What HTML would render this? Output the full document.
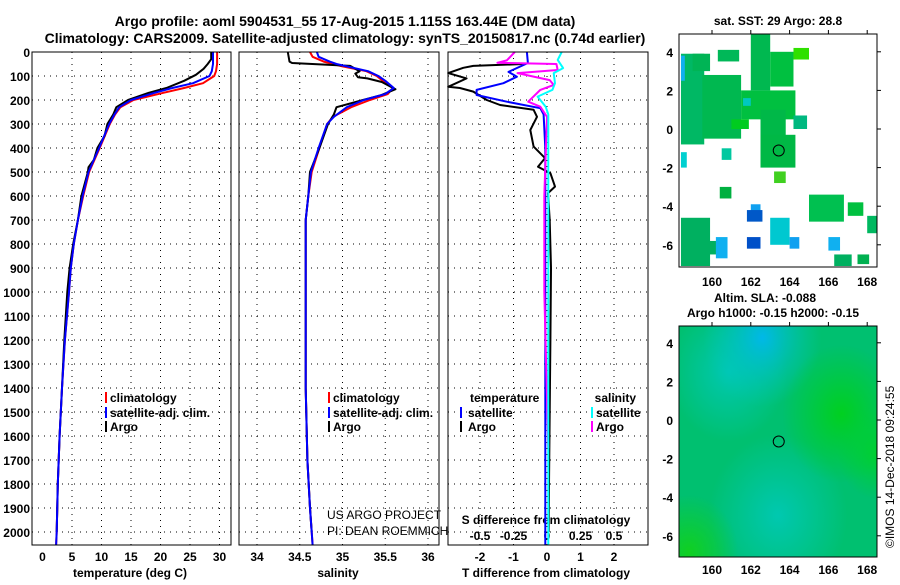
<!DOCTYPE html>
<html><head><meta charset="utf-8"><style>
body{margin:0;background:#fff;}
svg text{font-family:"Liberation Sans",sans-serif;font-weight:bold;font-size:12px;fill:#000;}
</style></head><body>
<svg id="chart" width="900" height="580" viewBox="0 0 900 580" xmlns="http://www.w3.org/2000/svg">
<rect width="900" height="580" fill="#fff"/>
<text x="345" y="26" text-anchor="middle" style="font-size:14px">Argo profile: aoml 5904531_55 17-Aug-2015 1.115S 163.44E (DM data)</text>
<text x="345" y="43" text-anchor="middle" style="font-size:14px">Climatology: CARS2009. Satellite-adjusted climatology: synTS_20150817.nc (0.74d earlier)</text>
<g id="plots"></g>
<text x="327" y="519" style="font-weight:normal">US ARGO PROJECT</text>
<text x="327" y="535" style="font-weight:normal">PI: DEAN ROEMMICH</text>
<text x="778" y="25" text-anchor="middle">sat. SST: 29 Argo: 28.8</text>
<text x="765" y="302" text-anchor="middle">Altim. SLA: -0.088</text>
<text x="773" y="317" text-anchor="middle">Argo h1000: -0.15 h2000: -0.15</text>
<text transform="translate(894,548) rotate(-90)" style="font-weight:normal">©IMOS 14-Dec-2018 09:24:55</text>
</svg>
<script>
// ---------- data ----------
const depthTicks = [0,100,200,300,400,500,600,700,800,900,1000,1100,1200,1300,1400,1500,1600,1700,1800,1900,2000];
const tTicks = [0,5,10,15,20,25,30];
const sTicks = [34,34.5,35,35.5,36];
const sTickLabels = ["34","34.5","35","35.5","36"];
const dTicks = [-2,-1,0,1,2];
const dsTickLabels = ["-0.5","-0.25","0","0.25","0.5"];
const dsTicks = [-0.5,-0.25,0,0.25,0.5];

const depthClim = [0,50,80,100,130,150,170,200,230,260,300,400,500,600,700,800,900,1000,1200,1400,1600,1800,2000,2054];
const tClim = [29.6,29.6,29.4,29.1,27.2,24,20.5,15.4,13.2,12.3,11.4,9.7,7.9,6.9,6.0,5.3,4.8,4.5,3.8,3.3,2.9,2.6,2.4,2.3];
const tSat  = [28.9,28.9,28.7,28.3,25.5,22,19,15,13,12.2,11.3,9.6,7.8,6.8,6.0,5.3,4.8,4.5,3.8,3.3,2.9,2.6,2.4,2.3];
const depthTArgo = [0,30,50,70,95,120,150,170,200,230,260,300,350,400,450,480,500,600,700,800,900,1000,1200,1400,1600,1800,2000];
const tArgo = [28.6,28.6,28.0,27.3,26,24,21,18,14.5,12.5,12,11,10.5,9.3,8.7,7.8,7.7,6.6,6.0,5.2,4.6,4.2,3.7,3.3,2.9,2.6,2.4];

const depthSal = [0,20,40,50,60,80,100,120,150,175,200,230,270,300,400,500,600,700,1000,1400,1700,1900,2000,2054];
const sClim = [34.62,34.65,34.78,34.89,35.0,35.28,35.4,35.47,35.59,35.53,35.32,35.1,34.89,34.82,34.73,34.64,34.6,34.57,34.57,34.57,34.59,34.62,34.64,34.65];
const sSat  = [34.70,34.72,34.85,34.93,35.05,35.3,35.42,35.5,35.6,35.5,35.25,35.05,34.9,34.82,34.72,34.63,34.6,34.57,34.57,34.57,34.59,34.62,34.64,34.65];
const depthSArgo = [0,40,46,58,80,90,105,110,125,155,180,200,230,260,300,400,500,600,700,1000,1400,1700,1900,2000];
const sArgo = [34.36,34.38,34.41,35.09,35.2,35.15,35.18,35.29,35.46,35.62,35.45,35.24,34.93,34.9,34.83,34.73,34.62,34.6,34.57,34.57,34.57,34.59,34.62,34.64];

const depthDTArgo = [50,58,66,88,110,145,150,165,200,221,241,270,325,394,442,478,505,561,588,700,900,1200,1500,1800,2000];
const dTArgo = [-0.7,-2.2,-2.5,-2.95,-2.4,-2.95,-2.6,-2.2,-1.8,-1.4,-0.4,-0.3,-0.5,-0.4,-0.06,-0.27,0.1,0.24,0.03,0.08,0.12,0.1,0.08,0.06,0.05];
const depthDTSat = [0,46,83,103,130,158,179,207,234,260,400,2054];
const dTSat = [-0.6,-0.57,-1.15,-0.9,-1.3,-2.1,-2.1,-1.2,-0.2,-0.1,-0.05,-0.05];
const depthDSArgo = [0,35,45,50,75,88,117,137,158,207,228,270,600,1000,1650];
const dSArgo = [-0.24,-0.3,-0.37,0.07,0.08,-0.22,0.02,0.05,-0.05,-0.14,-0.05,0,-0.02,-0.02,0.01];
const depthDSSat = [0,33,67,88,130,158,186,228,260,2054];
const dSSat = [0.11,0.08,0.12,0.05,0.06,0.04,-0.07,-0.01,0.01,0.01];

const latTicks = [4,2,0,-2,-4,-6];
const lonTicks = [160,162,164,166,168];
// SST cells: [lon0, lon1, lat0, lat1, colour]
const sstCells = [
[158.4,159.6,-0.8,3.9,"#00b864"],[159.5,161.5,-0.5,2.8,"#00b850"],[159,159.9,3,3.9,"#00b455"],
[161.5,164.3,0.5,2.0,"#00c040"],[161.0,161.9,0,0.5,"#00cc20"],[162.5,163.8,-0.5,1,"#00b848"],
[162,163.0,2,4.9,"#00b850"],[163,164.2,2.2,4,"#00c040"],[160.3,161.4,3.5,4.1,"#00b858"],
[164.2,165,3.6,4.2,"#30e000"],[164.2,164.9,0,0.7,"#00b880"],[162.5,164.3,-2,-0.3,"#00b845"],
[163.2,163.8,-2.8,-2.2,"#40d020"],[160.5,161.0,-1.6,-1.0,"#00c8a0"],[158.4,158.7,-2,-1.2,"#00d0d0"],
[160.4,161.0,-3.6,-3.0,"#00b040"],[165,166.8,-4.8,-3.4,"#00c050"],[167,167.8,-4.5,-3.8,"#00c040"],
[168,168.5,-5.4,-4.5,"#00b860"],[158.4,159.9,-7.1,-4.6,"#00b060"],[159.7,160.5,-6.5,-5.8,"#00b060"],
[162,162.5,-4.7,-3.9,"#10a0f0"],[161.8,162.6,-4.8,-4.2,"#0058c8"],[161.8,162.5,-6.2,-5.6,"#0050c8"],
[163,164,-6,-4.6,"#00c8d0"],[164,164.5,-6.2,-5.6,"#10a0f0"],[166,166.6,-6.3,-5.6,"#10b0f0"],
[160.2,160.8,-6.7,-5.6,"#10b0f0"],[166.3,167.2,-7.1,-6.5,"#00b060"],[167.5,168.1,-7.0,-6.5,"#00b050"],
[158.4,158.6,2.5,3.8,"#10b0f0"],[161.6,162.0,1.2,1.6,"#00c8c0"]
];
const argoLon = 163.44, argoLat = -1.115;

// ---------- helpers ----------
const NS="http://www.w3.org/2000/svg";
const root=document.getElementById('plots');
function mk(tag,attrs,parent){const e=document.createElementNS(NS,tag);for(const k in attrs)e.setAttribute(k,attrs[k]);(parent||root).appendChild(e);return e;}
const Y0=52, PX100=24, YB=545;
const yD = d => Y0 + d*PX100/100;
const xT = v => 42.5 + v*5.9;
const xS = v => 257 + (v-34)*85.5;
const xDT = v => 547 + v*33.5;
const xDS = v => 547 + v*134;

function frame(x0,x1,name){
  const r=mk('rect',{x:x0,y:Y0,width:x1-x0,height:YB-Y0,fill:'none',stroke:'#000','stroke-width':1});
  
  
}
function hgrid(x0,x1){
  depthTicks.forEach(d=>{ if(d===0) return;
    const l=mk('line',{x1:x0,x2:x1,y1:yD(d),y2:yD(d),stroke:'#000','stroke-dasharray':'1,5','stroke-width':1});
    
    
  });
}
function vgrid(xs){
  xs.forEach(x=>{
    const l=mk('line',{x1:x,x2:x,y1:Y0,y2:YB,stroke:'#000','stroke-dasharray':'1,5','stroke-width':1});
    
    
  });
}
function line(depths,vals,xf,color,name,w){
  const pts=depths.map((d,i)=>xf(vals[i]).toFixed(1)+','+yD(Math.min(d,2054)).toFixed(1)).join(' ');
  const p=mk('polyline',{points:pts,fill:'none',stroke:color,'stroke-width':w||2,'stroke-linejoin':'round'});
  
  
}
function label(x,y,t,anchor,name){
  const e=mk('text',{x:x,y:y,'text-anchor':anchor||'start'});e.textContent=t;
  
  
  return e;
}
function legendTick(x,y,color){
  const l=mk('line',{x1:x,x2:x,y1:y-11,y2:y,stroke:color,'stroke-width':2});
  
  
}

// ---------- panel 1 temperature ----------
hgrid(32,231); vgrid(tTicks.slice(1).map(xT));
depthTicks.forEach(d=>label(30,yD(d)+5,String(d),'end','depth-tick-label'));
tTicks.forEach(v=>label(xT(v),561,String(v),'middle','temperature-tick-label'));
label(130,577,'temperature (deg C)','middle','temperature-axis-title');
line(depthClim,tClim,xT,'#ff0000','temperature-climatology-line');
line(depthTArgo,tArgo,xT,'#000000','temperature-argo-line');
line(depthClim,tSat,xT,'#0000ff','temperature-satellite-line');
frame(32,231,'temperature-panel-frame');
legendTick(106,403,'#ff0000');label(110,402,'climatology','start','legend-climatology');
legendTick(106,418,'#0000ff');label(110,417,'satellite-adj. clim.','start','legend-satellite');
legendTick(106,432,'#000');label(110,431,'Argo','start','legend-argo');

// ---------- panel 2 salinity ----------
hgrid(239,439); vgrid(sTicks.map(xS));
sTicks.forEach((v,i)=>label(xS(v),561,sTickLabels[i],'middle','salinity-tick-label'));
label(338,577,'salinity','middle','salinity-axis-title');
line(depthSal,sClim,xS,'#ff0000','salinity-climatology-line');
line(depthSArgo,sArgo,xS,'#000000','salinity-argo-line');
line(depthSal,sSat,xS,'#0000ff','salinity-satellite-line');
frame(239,439,'salinity-panel-frame');
legendTick(329,403,'#ff0000');label(333,402,'climatology','start','legend-climatology');
legendTick(329,418,'#0000ff');label(333,417,'satellite-adj. clim.','start','legend-satellite');
legendTick(329,432,'#000');label(333,431,'Argo','start','legend-argo');

// ---------- panel 3 differences ----------
hgrid(448,648); vgrid(dTicks.map(xDT));
dTicks.forEach(v=>label(xDT(v),561,String(v),'middle','t-diff-tick-label'));
dsTicks.forEach((v,i)=>label(xDS(v),540,dsTickLabels[i],'middle','s-diff-tick-label'));
label(546,577,'T difference from climatology','middle','t-diff-axis-title');
label(546,524,'S difference from climatology','middle','s-diff-axis-title');
line(depthDTArgo,dTArgo,xDT,'#000000','t-diff-argo-line');
line(depthDTSat,dTSat,xDT,'#0000ff','t-diff-satellite-line');
line(depthDSArgo,dSArgo,xDS,'#ff00ff','s-diff-argo-line');
line(depthDSSat,dSSat,xDS,'#00ffff','s-diff-satellite-line');
frame(448,648,'difference-panel-frame');
label(470,402,'temperature','start','legend-temperature-heading');
label(636,402,'salinity','end','legend-salinity-heading');
legendTick(461,418,'#0000ff');label(468,417,'satellite','start','legend-t-satellite');
legendTick(461,432,'#000');label(468,431,'Argo','start','legend-t-argo');
legendTick(592,418,'#00ffff');label(596,417,'satellite','start','legend-s-satellite');
legendTick(592,432,'#ff00ff');label(596,431,'Argo','start','legend-s-argo');

// ---------- maps ----------
const MX0=679,MX1=877;
const xLon = l => 712 + (l-160)*19.4;
function mapAxes(top,bottom,lat0y,name,labY){
  const yL = la => lat0y - la*19.3;
  latTicks.forEach(la=>{
    label(673,yL(la)+5,String(la),'end','map-lat-label');
    const t=mk('line',{x1:MX1,x2:MX1+4,y1:yL(la),y2:yL(la),stroke:'#000'});
    
    
  });
  lonTicks.forEach(lo=>{
    label(xLon(lo),labY,String(lo),'middle','map-lon-label');
    const t=mk('line',{x1:xLon(lo),x2:xLon(lo),y1:top,y2:top-4,stroke:'#000'});
    
    
  });
  const c=mk('circle',{cx:xLon(argoLon),cy:yL(argoLat),r:5.5,fill:'none',stroke:'#000','stroke-width':1});
  
  
  const f=mk('rect',{x:MX0,y:top,width:MX1-MX0,height:bottom-top,fill:'none',stroke:'#000'});
  
  
}
// map 1 SST
const lat0a=129;
sstCells.forEach(c=>{
  const r=mk('rect',{x:xLon(c[0]),y:lat0a-c[3]*19.3,width:(c[1]-c[0])*19.4,height:(c[3]-c[2])*19.3,fill:c[4]});
  
  
});
mapAxes(34,267,lat0a,'sst-map-frame',286);

// map 2 SLA
const defs=mk('defs',{});
defs.innerHTML='<radialGradient id="g1" cx="0.82" cy="0.38" r="0.3"><stop offset="0" stop-color="#00d020"/><stop offset="1" stop-color="#00d020" stop-opacity="0"/></radialGradient>'+
'<radialGradient id="g2" cx="0.42" cy="0.05" r="0.3"><stop offset="0" stop-color="#00b8e8"/><stop offset="1" stop-color="#00c8c0" stop-opacity="0"/></radialGradient>'+
'<radialGradient id="g3" cx="0.25" cy="0.2" r="0.3"><stop offset="0" stop-color="#00c8b0"/><stop offset="1" stop-color="#00c8b0" stop-opacity="0"/></radialGradient>'+
'<radialGradient id="g4" cx="0.5" cy="0.82" r="0.35"><stop offset="0" stop-color="#00c8b0"/><stop offset="1" stop-color="#00c8b0" stop-opacity="0"/></radialGradient>'+
'<radialGradient id="g5" cx="0.05" cy="0.98" r="0.25"><stop offset="0" stop-color="#10d020"/><stop offset="1" stop-color="#10d020" stop-opacity="0"/></radialGradient>'+
'<radialGradient id="g6" cx="1" cy="0.55" r="0.2"><stop offset="0" stop-color="#00d030"/><stop offset="1" stop-color="#00d030" stop-opacity="0"/></radialGradient>';
['#00c070','url(#g3)','url(#g4)','url(#g2)','url(#g1)','url(#g5)','url(#g6)'].forEach(f=>{
  const r=mk('rect',{x:MX0,y:326,width:MX1-MX0,height:557-326,fill:f});
  
  
});
mapAxes(326,557,420,'sla-map-frame',574);
</script>
</body></html>
